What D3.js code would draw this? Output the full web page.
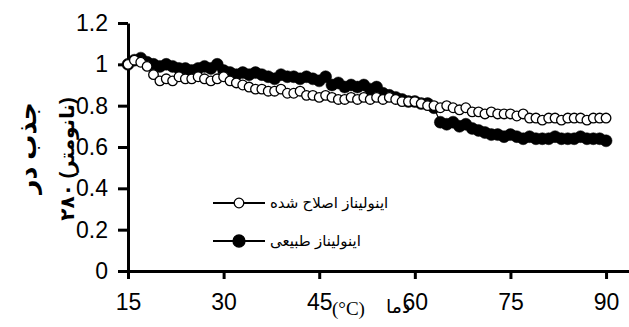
<!DOCTYPE html>
<html>
<head>
<meta charset="utf-8">
<script src="https://cdn.jsdelivr.net/npm/d3@7"></script>
<style>
  body { margin: 0; background: #fff; }
  svg { display: block; font-family: Arial, "Liberation Sans", "DejaVu Sans", sans-serif; }
</style>
</head>
<body>
<svg id="chart" width="629" height="327"></svg>
<script>
// temperatures, 15..90 step 1
const temps = [15,16,17,18,19,20,21,22,23,24,25,26,27,28,29,30,31,32,33,34,35,36,37,38,39,40,
  41,42,43,44,45,46,47,48,49,50,51,52,53,54,55,56,57,58,59,60,61,62,63,64,65,66,67,68,69,70,
  71,72,73,74,75,76,77,78,79,80,81,82,83,84,85,86,87,88,89,90]

// modified inulinase (open circles)
const modified = [1.00,1.02,1.01,0.99,0.95,0.92,0.93,0.92,0.94,0.93,0.93,0.94,0.93,0.92,0.93,0.94,
  0.92,0.91,0.90,0.89,0.88,0.88,0.87,0.87,0.88,0.86,0.86,0.87,0.85,0.85,0.84,0.85,0.84,0.83,0.83,0.84,
  0.83,0.84,0.83,0.84,0.83,0.84,0.83,0.82,0.82,0.82,0.81,0.80,0.80,0.79,0.80,0.79,0.78,0.79,0.77,0.77,
  0.76,0.77,0.76,0.76,0.76,0.75,0.76,0.74,0.74,0.73,0.74,0.74,0.73,0.74,0.74,0.74,0.73,0.74,0.74,0.74]

// native inulinase (filled circles)
const native = [1.00,1.02,1.03,1.01,1.00,0.99,1.00,0.99,0.98,0.98,0.97,0.98,0.99,0.98,1.00,0.97,
  0.96,0.95,0.96,0.95,0.96,0.95,0.94,0.93,0.95,0.94,0.94,0.93,0.94,0.93,0.92,0.94,0.90,0.91,0.89,0.90,
  0.89,0.90,0.88,0.89,0.86,0.85,0.84,0.83,0.82,0.82,0.81,0.81,0.79,0.72,0.71,0.72,0.70,0.71,0.69,0.68,
  0.67,0.66,0.66,0.65,0.66,0.65,0.64,0.65,0.64,0.64,0.64,0.65,0.64,0.64,0.64,0.65,0.64,0.64,0.64,0.63]

const xTicks = [15, 30, 45, 60, 75, 90]
const yTicks = [0, 0.2, 0.4, 0.6, 0.8, 1, 1.2]
const seriesNames = ['اینولیناز اصلاح شده', 'اینولیناز طبیعی']
const yLabelLines = ['جذب در', '۲۸۰ (نانومتر)']
const xLabelUnit = '(°C)'
const xLabelText = 'دما'

const svg = d3.select('#chart')

const x = d3.scaleLinear().domain([15, 93.6]).range([128, 629])
const y = d3.scaleLinear().domain([0, 1.2]).range([271, 23])

// axes
const xAxis = svg.append('g')
  .attr('transform', `translate(0,${y(0)})`)
  .call(d3.axisBottom(x).tickValues(xTicks).tickSize(8).tickSizeOuter(0).tickPadding(15).tickFormat(d3.format('d')))
const yAxis = svg.append('g')
  .attr('transform', `translate(${x(15)},0)`)
  .call(d3.axisLeft(y).tickValues(yTicks).tickSize(10).tickSizeOuter(0).tickPadding(10).tickFormat(d => String(+d.toFixed(1))))

for (const ax of [xAxis, yAxis]) {
  ax.select('.domain').attr('stroke', '#000').attr('stroke-width', 3)
  ax.selectAll('.tick line').attr('stroke', '#000').attr('stroke-width', 3)
  ax.selectAll('.tick text').attr('fill', '#000')
    .style('font-family', 'Arial, "Liberation Sans", sans-serif').style('font-size', '23px')
}

// series
const line = d3.line().x((d, i) => x(temps[i])).y(d => y(d))

const drawSeries = (values, filled) => {
  const g = svg.append('g')
  g.append('path').datum(values)
    .attr('d', line).attr('fill', 'none').attr('stroke', '#000').attr('stroke-width', 1.2)
  g.selectAll('circle').data(values).enter().append('circle')
    .attr('cx', (d, i) => x(temps[i]))
    .attr('cy', d => y(d))
    .attr('r', filled ? 6 : 4.8)
    .attr('fill', filled ? '#000' : '#fff')
    .attr('stroke', '#000')
    .attr('stroke-width', filled ? 0.5 : 1.3)
}
drawSeries(native, true)
drawSeries(modified, false)

// legend
const legend = svg.append('g').selectAll('g')
  .data(seriesNames).enter().append('g')
  .attr('transform', (d, i) => `translate(213,${203 + i * 38})`)
legend.append('line').attr('x1', 0).attr('x2', 52).attr('stroke', '#000').attr('stroke-width', 2)
legend.append('circle').attr('cx', 26).attr('r', (d, i) => i ? 6 : 4.8)
  .attr('fill', (d, i) => i ? '#000' : '#fff').attr('stroke', '#000').attr('stroke-width', 1.3)
legend.append('text').attr('x', 57).attr('dy', '0.35em')
  .attr('text-anchor', 'start')
  .style('font-size', '15px')
  .text(d => d)

// y label (rotated, two lines)
svg.append('g').selectAll('text')
  .data(yLabelLines).enter().append('text')
  .attr('transform', (d, i) => `translate(${i ? 74 : 36},${i ? 159 : 148}) rotate(-90)`)
  .attr('text-anchor', 'middle')
  .style('font-size', (d, i) => i ? '20px' : '25px').style('font-weight', 'bold')
  .text(d => d)

// x label
svg.append('text').attr('x', 332).attr('y', 315)
  .style('font-family', '"Liberation Serif", "Times New Roman", serif').style('font-size', '19px')
  .text(xLabelUnit)
svg.append('text').attr('x', 386).attr('y', 313)
  .style('font-size', '19px')
  .text(xLabelText)
</script>
</body>
</html>
